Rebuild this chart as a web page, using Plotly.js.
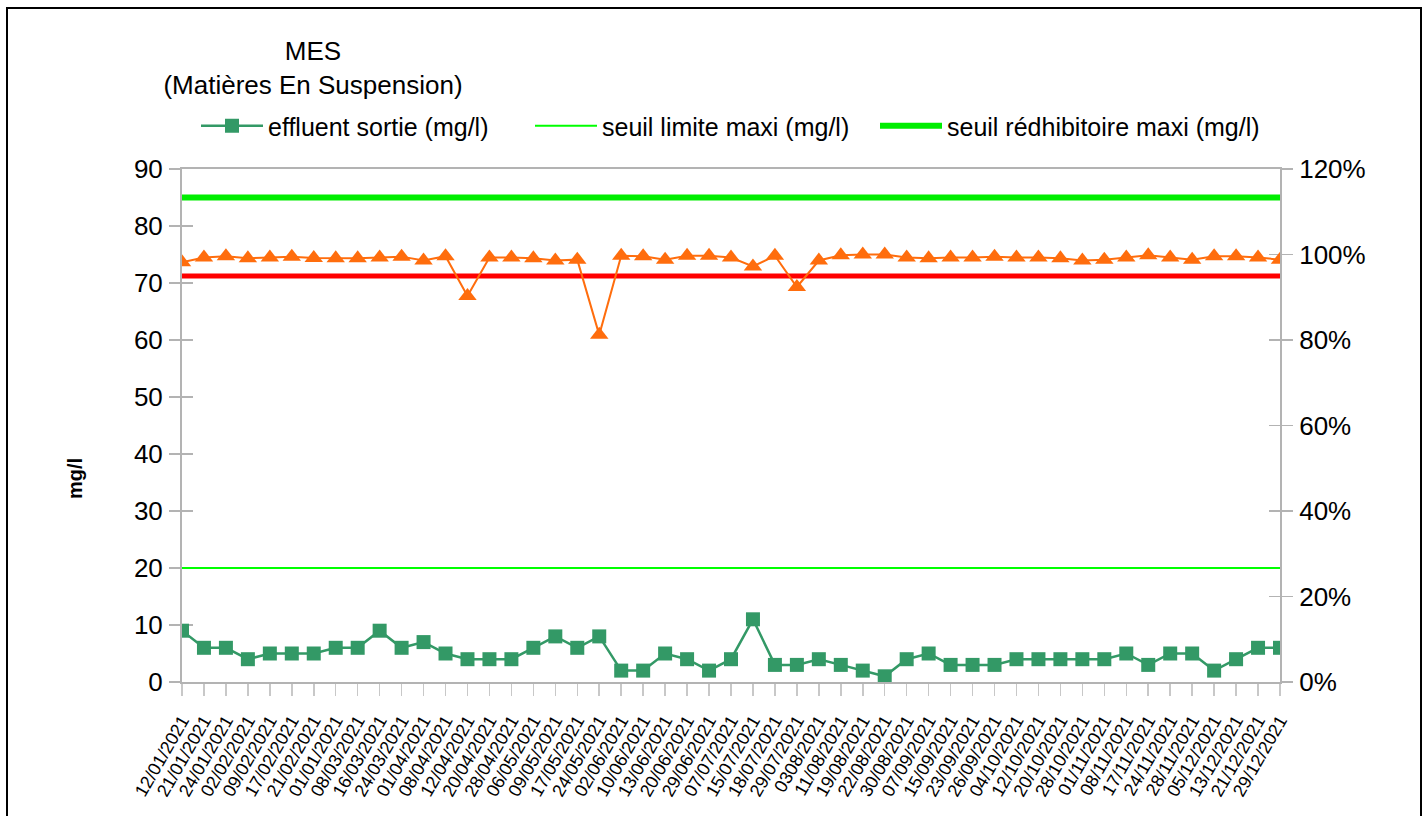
<!DOCTYPE html>
<html>
<head>
<meta charset="utf-8">
<script src="https://cdn.plot.ly/plotly-3.0.1.min.js"></script>
<style>
  html, body { margin: 0; padding: 0; background: #ffffff; }
  #wrap { position: relative; width: 1428px; height: 816px; overflow: hidden; }
  #chart { width: 1428px; height: 816px; }
  #frame { position: absolute; left: 6px; top: 7px; width: 1412px; height: 830px;
           border: 2px solid #000; pointer-events: none; }
</style>
</head>
<body>
<div id="wrap">
  <div id="chart"></div>
  <div id="frame"></div>
</div>
<script>
// ---- data ----
const dates = [
  "12/01/2021","21/01/2021","24/01/2021","02/02/2021","09/02/2021","17/02/2021",
  "21/02/2021","01/01/2021","08/03/2021","16/03/2021","24/03/2021","01/04/2021",
  "08/04/2021","12/04/2021","20/04/2021","28/04/2021","06/05/2021","09/05/2021",
  "17/05/2021","24/05/2021","02/06/2021","10/06/2021","13/06/2021","20/06/2021",
  "29/06/2021","07/07/2021","15/07/2021","18/07/2021","29/07/2021","0308/2021",
  "11/08/2021","19/08/2021","22/08/2021","30/08/2021","07/09/2021","15/09/2021",
  "23/09/2021","26/09/2021","04/10/2021","12/10/2021","20/10/2021","28/10/2021",
  "01/11/2021","08/11/2021","17/11/2021","24/11/2021","28/11/2021","05/12/2021",
  "13/12/2021","21/12/2021","29/12/2021"
];
const effluentSortie = [
  9, 6, 6, 4, 5, 5, 5, 6, 6, 9, 6, 7, 5, 4, 4, 4, 6, 8, 6, 8,
  2, 2, 5, 4, 2, 4, 11, 3, 3, 4, 3, 2, 1, 4, 5, 3, 3, 3, 4, 4,
  4, 4, 4, 5, 3, 5, 5, 2, 4, 6, 6
];
const rendement = [
  0.982, 0.993, 0.996, 0.991, 0.993, 0.995, 0.992, 0.991, 0.991, 0.993,
  0.995, 0.986, 0.996, 0.903, 0.993, 0.993, 0.991, 0.986, 0.988, 0.812,
  0.997, 0.996, 0.988, 0.997, 0.997, 0.993, 0.972, 0.997, 0.924, 0.986,
  0.998, 1.000, 1.000, 0.993, 0.991, 0.993, 0.993, 0.995, 0.993, 0.993,
  0.991, 0.986, 0.988, 0.993, 0.998, 0.993, 0.988, 0.996, 0.996, 0.993,
  0.988
];
const seuilLimite = 20;        // mg/l
const seuilRedhibitoire = 85;  // mg/l
const seuilRendement = 0.95;   // fraction

const legendNames = [
  "effluent sortie (mg/l)",
  "seuil limite maxi (mg/l)",
  "seuil rédhibitoire maxi (mg/l)"
];

const firstLast = [dates[0], dates[dates.length - 1]];
const FONT = "Liberation Sans, Arial, sans-serif";
const AXIS_GREY = "#b3b3b3";

const traces = [
  { x: firstLast, y: [seuilRendement, seuilRendement], yaxis: "y2", type: "scatter",
    mode: "lines", line: { color: "#ff0000", width: 5 }, showlegend: false, hoverinfo: "skip" },
  { x: dates, y: rendement, yaxis: "y2", type: "scatter", mode: "lines+markers",
    line: { color: "#ff6d0d", width: 2 },
    marker: { symbol: "triangle-up", size: 16, color: "#ff6d0d" },
    showlegend: false, name: "rendement" },
  { x: firstLast, y: [seuilLimite, seuilLimite], type: "scatter", mode: "lines",
    name: legendNames[1], legend: "legend2", line: { color: "#00ff00", width: 2 } },
  { x: firstLast, y: [seuilRedhibitoire, seuilRedhibitoire], type: "scatter", mode: "lines",
    name: legendNames[2], legend: "legend3", line: { color: "#00ee00", width: 6 } },
  { x: dates, y: effluentSortie, type: "scatter", mode: "lines+markers",
    name: legendNames[0], legend: "legend",
    line: { color: "#339966", width: 2.5 },
    marker: { symbol: "square", size: 14, color: "#339966" } },
  // invisible helpers carrying the inner halves of the crossing ticks
  { x: firstLast, y: [0, 0], yaxis: "y3", mode: "lines", line: { width: 0 },
    showlegend: false, hoverinfo: "skip", opacity: 0 },
  { x: firstLast, y: [0, 0], yaxis: "y4", mode: "lines", line: { width: 0 },
    showlegend: false, hoverinfo: "skip", opacity: 0 }
];

function legendAt(px) {
  return {
    orientation: "h",
    xref: "container", yref: "container",
    x: px / 1428, xanchor: "left",
    y: 1 - 126 / 816, yanchor: "middle",
    font: { family: FONT, size: 25, color: "#000" },
    itemwidth: 62,
    bgcolor: "rgba(0,0,0,0)"
  };
}

const layout = {
  width: 1428, height: 816,
  margin: { l: 182, r: 148, t: 169, b: 134 },
  paper_bgcolor: "#ffffff", plot_bgcolor: "#ffffff",
  font: { family: FONT, color: "#000000", size: 20 },
  title: {
    text: "MES<br>(Matières En Suspension)",
    font: { family: FONT, size: 26, color: "#000" },
    xref: "container", yref: "container",
    x: 313 / 1428, xanchor: "center",
    y: 1 - 60 / 816, yanchor: "middle"
  },
  showlegend: true,
  legend: legendAt(196),
  legend2: legendAt(530),
  legend3: legendAt(875),
  xaxis: {
    type: "category",
    categoryorder: "array", categoryarray: dates,
    range: [0, dates.length - 1],
    tickmode: "linear", dtick: 1, tick0: 0,
    tickangle: -60,
    tickfont: { family: FONT, size: 18, color: "#000" },
    ticks: "outside", ticklen: 12, tickcolor: "#c8c8c8", tickwidth: 1.5,
    ticklabelstandoff: 7,
    showline: true, linecolor: AXIS_GREY, linewidth: 2, mirror: true,
    showgrid: false, zeroline: false, fixedrange: true
  },
  yaxis: {
    range: [0, 90], dtick: 10, tick0: 0,
    tickfont: { family: FONT, size: 26, color: "#000" },
    ticks: "outside", ticklen: 11, tickcolor: AXIS_GREY, tickwidth: 1.5,
    ticklabelstandoff: 1,
    showline: true, linecolor: AXIS_GREY, linewidth: 2,
    showgrid: false, zeroline: false, fixedrange: true
  },
  yaxis2: {
    overlaying: "y", side: "right",
    range: [0, 1.2], dtick: 0.2, tick0: 0, tickformat: ".0%",
    tickfont: { family: FONT, size: 26, color: "#000" },
    ticks: "outside", ticklen: 11, tickcolor: AXIS_GREY, tickwidth: 1.5,
    ticklabelstandoff: 1,
    showline: true, linecolor: AXIS_GREY, linewidth: 2,
    showgrid: false, zeroline: false, fixedrange: true
  },
  yaxis3: {
    overlaying: "y", side: "left", range: [0, 90], dtick: 10, tick0: 0,
    ticks: "inside", ticklen: 11, tickcolor: AXIS_GREY, tickwidth: 1.5,
    layer: "below traces",
    showticklabels: false, showline: false, showgrid: false, zeroline: false, fixedrange: true
  },
  yaxis4: {
    overlaying: "y", side: "right", range: [0, 1.2], dtick: 0.2, tick0: 0,
    ticks: "inside", ticklen: 11, tickcolor: AXIS_GREY, tickwidth: 1.5,
    layer: "below traces",
    showticklabels: false, showline: false, showgrid: false, zeroline: false, fixedrange: true
  },
  annotations: [{
    text: "<b>mg/l</b>", textangle: -90,
    xref: "paper", yref: "paper",
    x: (75 - 182) / 1098, xanchor: "center",
    y: (682 - 479) / 513, yanchor: "middle",
    showarrow: false,
    font: { family: FONT, size: 20, color: "#000" }
  }]
};

Plotly.newPlot("chart", traces, layout, { displayModeBar: false, staticPlot: true });
</script>
</body>
</html>
